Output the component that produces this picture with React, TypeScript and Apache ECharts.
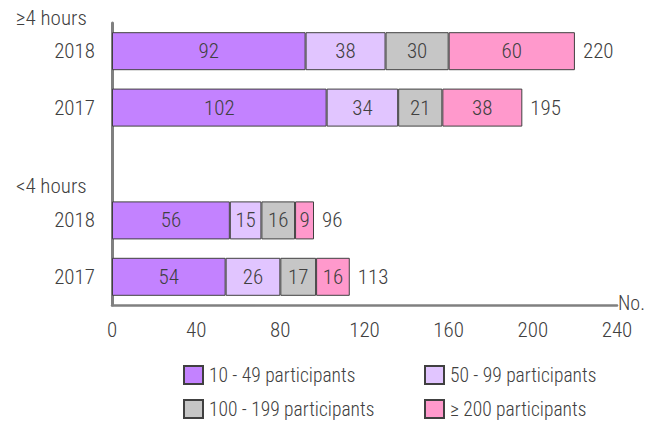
import React, { useEffect, useRef } from "react";
import * as echarts from "echarts";

const categories = ["2018", "2017", "", "2018", "2017"];
const groupLabels = ["≥4 hours", "<4 hours"];
const seriesNames = ["10 - 49 participants", "50 - 99 participants", "100 - 199 participants", "≥ 200 participants"];
const s10to49 = [92, 102, null, 56, 54];
const s50to99 = [38, 34, null, 15, 26];
const s100to199 = [30, 21, null, 16, 17];
const s200plus = [60, 38, null, 9, 16];
const xTicks = { min: 0, max: 240, interval: 40 };
const colors = ["#C382FF", "#E1C5FF", "#C6C6C6", "#FF99CC"];

const FONT = "'Roboto Condensed', 'DejaVu Sans Condensed', sans-serif";
const TXT = "#404040";
const FW = 300;

export default function App() {
  const ref = useRef<HTMLDivElement>(null);
  useEffect(() => {
    if (!ref.current) return;
    const chart = echarts.init(ref.current, null, { renderer: "svg" });
    const all = [s10to49, s50to99, s100to199, s200plus];
    const totals = categories.map((_, i) =>
      all.every((a) => a[i] == null) ? null : all.reduce((s, a) => s + (a[i] ?? 0), 0)
    );
    const series: any[] = all.map((d, k) => ({
      name: seriesNames[k],
      type: "bar",
      stack: "t",
      data: d,
      barWidth: 38,
      itemStyle: { color: colors[k], borderColor: "#404040", borderWidth: 1 },
      label: {
        show: true,
        position: "inside",
        color: TXT,
        fontSize: 21,
        fontWeight: FW,
        fontFamily: FONT,
      },
    }));
    series.push({
      name: "total",
      type: "bar",
      data: totals,
      barWidth: 38,
      barGap: "-100%",
      itemStyle: { color: "rgba(0,0,0,0)", borderWidth: 0 },
      label: {
        show: true,
        position: "right",
        distance: 8,
        color: TXT,
        fontSize: 21,
        fontWeight: FW,
        fontFamily: FONT,
      },
      z: 1,
      silent: true,
    });
    const legendBase = {
      orient: "vertical",
      top: 365,
      padding: 0,
      itemGap: 14,
      itemWidth: 19,
      itemHeight: 18,
      icon: "rect",
      textStyle: { color: TXT, fontSize: 19.5, fontWeight: FW, fontFamily: FONT, padding: [0, 0, 0, 1] },
    };
    chart.setOption({
      animation: false,
      textStyle: { fontFamily: FONT },
      grid: { left: 112, right: 40, top: 23, bottom: 120 },
      xAxis: {
        type: "value",
        min: xTicks.min,
        max: xTicks.max,
        interval: xTicks.interval,
        splitLine: { show: false },
        axisTick: { show: false },
        axisLine: { show: true, lineStyle: { color: "#808080", width: 2.5 } },
        axisLabel: { color: TXT, fontSize: 21, fontWeight: FW, fontFamily: FONT, margin: 14 },
        name: "No.",
        nameLocation: "end",
        nameGap: 1,
        nameTextStyle: { color: TXT, fontSize: 20, fontWeight: FW, fontFamily: FONT, verticalAlign: "bottom", padding: [0, 0, -8, 0] },
      },
      yAxis: {
        type: "category",
        inverse: true,
        data: categories,
        axisTick: { show: false },
        axisLine: { show: true, lineStyle: { color: "#808080", width: 3 } },
        axisLabel: { color: TXT, fontSize: 21, fontWeight: FW, fontFamily: FONT, margin: 17 },
      },
      legend: [
        { ...legendBase, data: [seriesNames[0], seriesNames[2]], left: 183 },
        { ...legendBase, data: [seriesNames[1], seriesNames[3]], left: 424 },
      ],
      graphic: [
        { type: "text", left: 16, top: 7, style: { text: groupLabels[0], fill: TXT, fontSize: 21, fontWeight: FW, fontFamily: FONT } },
        { type: "text", left: 16, top: 175, style: { text: groupLabels[1], fill: TXT, fontSize: 21, fontWeight: FW, fontFamily: FONT } },
      ],
      series,
    });
    return () => chart.dispose();
  }, []);
  return <div ref={ref} style={{ width: 657, height: 425, position: "absolute", left: 0, top: 0 }} />;
}
